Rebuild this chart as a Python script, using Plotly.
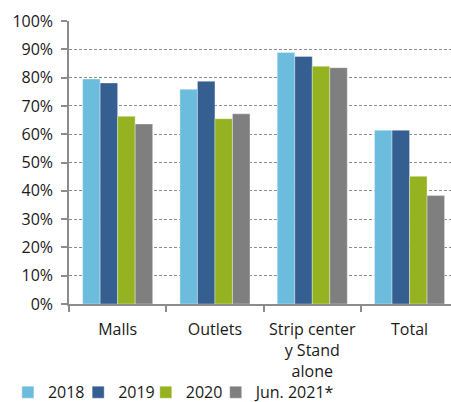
import plotly.graph_objects as go

categories = ["Malls", "Outlets", "Strip center<br>y Stand<br>alone", "Total"]
series_names = ["2018", "2019", "2020", "Jun. 2021*"]
v2018 = [0.795, 0.759, 0.889, 0.614]
v2019 = [0.781, 0.787, 0.875, 0.614]
v2020 = [0.663, 0.655, 0.840, 0.451]
vjun2021 = [0.636, 0.672, 0.835, 0.383]
colors = ["#6CBCDE", "#355F91", "#95B321", "#7F7F7F"]

values = [v2018, v2019, v2020, vjun2021]
legend_ids = ["legend", "legend2", "legend3", "legend4"]
legend_x = [-0.16, 0.024, 0.201, 0.384]

font = dict(family="'Open Sans', sans-serif", size=16, color="#1a1a1a")

fig = go.Figure()
for name, vals, col, lg in zip(series_names, values, colors, legend_ids):
    fig.add_trace(go.Bar(
        x=categories, y=vals, name=name, legend=lg,
        marker=dict(color=col, line=dict(color="rgba(255,255,255,0.35)", width=1)),
    ))

legend_common = dict(orientation="h", xanchor="left", y=-0.312, yanchor="middle",
                     font=font, bgcolor="rgba(0,0,0,0)", borderwidth=0)

layout_legends = {}
for lg, lx in zip(legend_ids, legend_x):
    layout_legends[lg] = dict(x=lx, **legend_common)

fig.update_layout(
    width=451, height=402,
    margin=dict(l=69, r=0, t=21, b=98, autoexpand=False),
    paper_bgcolor="white", plot_bgcolor="white",
    barmode="group", bargap=0.28, bargroupgap=0,
    font=font,
    showlegend=True,
    xaxis=dict(
        type="category", range=[-0.5, 3.426], automargin=False,
        showline=True, linecolor="#8c8c8c", linewidth=1.5,
        ticks="outside", tickson="boundaries", ticklen=6, tickcolor="#8c8c8c", tickwidth=1.5,
        showgrid=False, tickfont=font, ticklabelstandoff=10,
    ),
    yaxis=dict(
        range=[0, 1.0], tickformat=".0%", dtick=0.1, automargin=False,
        showline=True, linecolor="#8c8c8c", linewidth=1.5,
        ticks="outside", ticklen=6, tickcolor="#8c8c8c", tickwidth=1.5,
        showgrid=True, gridcolor="#8c8c8c", griddash="3px,2px", gridwidth=1,
        zeroline=False, tickfont=font, ticklabelstandoff=5,
    ),
    **layout_legends,
)

fig.write_html("out.html")
